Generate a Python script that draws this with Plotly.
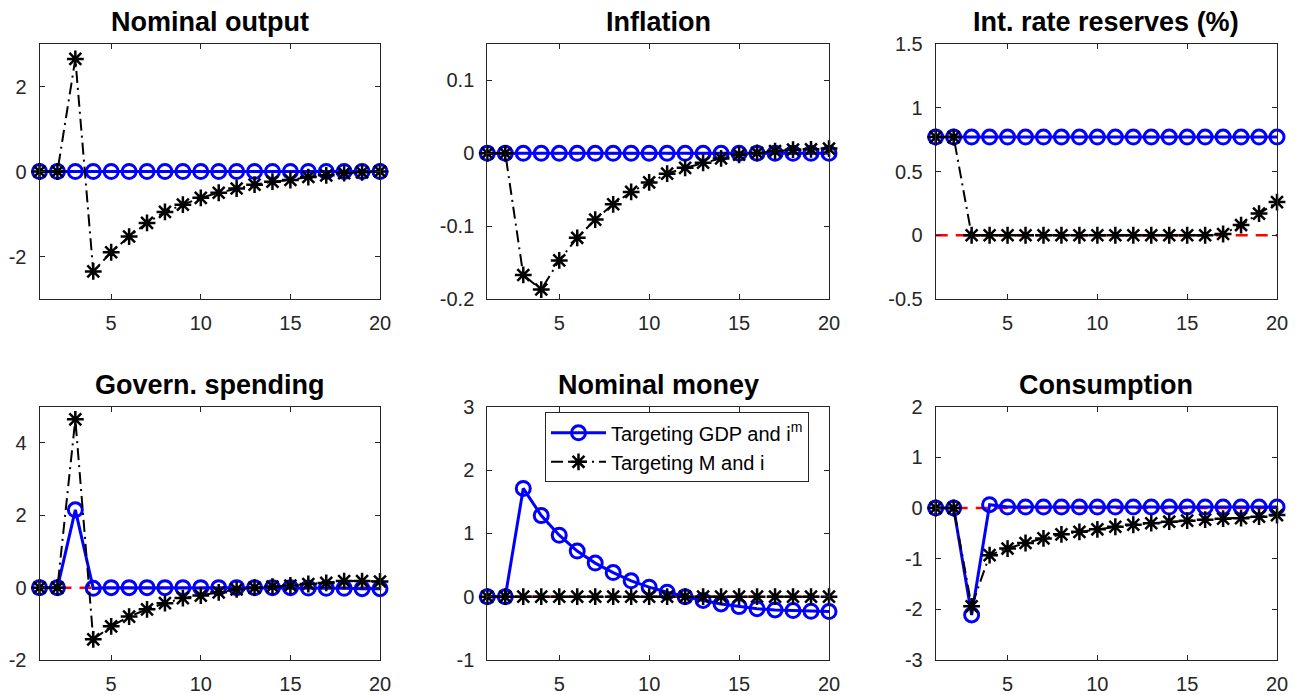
import plotly.graph_objects as go

periods = list(range(1, 21))

titles = ["Nominal output", "Inflation", "Int. rate reserves (%)",
          "Govern. spending", "Nominal money", "Consumption"]

# Targeting GDP and i^m (blue)
gdp_nominal_output = [0]*20
gdp_inflation = [0]*20
gdp_int_rate = [0.77]*20
gdp_gov_spending = [0, 0, 2.15, -0.02, 0, 0, 0, 0, 0, 0, 0, 0, 0, 0, 0, -0.01, -0.02, -0.02, -0.03, -0.03]
gdp_money = [0, 0, 1.71, 1.28, 0.97, 0.72, 0.53, 0.38, 0.25, 0.15, 0.07, 0.0, -0.06, -0.115, -0.157, -0.19, -0.21, -0.22, -0.23, -0.235]
gdp_consumption = [0, 0, -2.11, 0.065] + [0.02]*16

# Targeting M and i (black)
m_nominal_output = [0, 0, 2.65, -2.35, -1.9, -1.53, -1.21, -0.95, -0.78, -0.62, -0.50, -0.40, -0.31, -0.24, -0.20, -0.13, -0.09, -0.04, -0.02, 0.0]
m_inflation = [0, 0, -0.167, -0.187, -0.147, -0.116, -0.091, -0.070, -0.053, -0.040, -0.028, -0.020, -0.013, -0.007, -0.002, 0.0005, 0.003, 0.005, 0.0055, 0.0064]
m_int_rate = [0.77, 0.77] + [0]*14 + [0.01, 0.08, 0.17, 0.26]
m_gov_spending = [0, 0, 4.65, -1.43, -1.07, -0.80, -0.60, -0.43, -0.29, -0.22, -0.13, -0.05, 0.0, 0.03, 0.06, 0.10, 0.13, 0.18, 0.18, 0.17]
m_money = [0]*20
m_consumption = [0, 0, -1.94, -0.93, -0.80, -0.69, -0.60, -0.52, -0.47, -0.42, -0.37, -0.33, -0.30, -0.27, -0.25, -0.23, -0.21, -0.20, -0.17, -0.14]

gdp_series = [gdp_nominal_output, gdp_inflation, gdp_int_rate, gdp_gov_spending, gdp_money, gdp_consumption]
m_series = [m_nominal_output, m_inflation, m_int_rate, m_gov_spending, m_money, m_consumption]
zero_line = [0]*20

y_ranges = [[-3, 3], [-0.2, 0.15], [-0.5, 1.5], [-2, 5], [-1, 3], [-3, 2]]
y_ticks = [[-2, 0, 2], [-0.2, -0.1, 0, 0.1], [-0.5, 0, 0.5, 1, 1.5],
           [-2, 0, 2, 4], [-1, 0, 1, 2, 3], [-3, -2, -1, 0, 1, 2]]
y_ticktext = [["-2", "0", "2"], ["-0.2", "-0.1", "0", "0.1"], ["-0.5", "0", "0.5", "1", "1.5"],
              ["-2", "0", "2", "4"], ["-1", "0", "1", "2", "3"], ["-3", "-2", "-1", "0", "1", "2"]]
x_ticks = [5, 10, 15, 20]

W, H = 1303, 695
col_px = [(39.5, 380), (487.3, 829), (935.7, 1277)]
row_px = [(44, 299), (406.7, 660)]
FONT = "Liberation Sans, Arial"

fig = go.Figure()
layout = {}
annotations = []
for i in range(6):
    r, c = divmod(i, 3)
    ax = "" if i == 0 else str(i + 1)
    xa, ya = "x" + ax, "y" + ax
    x0, x1 = col_px[c]
    y0, y1 = row_px[r]
    xd = [x0 / W, x1 / W]
    yd = [1 - y1 / H, 1 - y0 / H]
    common = dict(showgrid=False, zeroline=False, showline=True, linecolor="#262626",
                  linewidth=1, mirror="ticks", ticks="inside", ticklen=5,
                  tickcolor="#262626", automargin=False,
                  tickfont=dict(family=FONT, size=20, color="#262626"))
    layout["xaxis" + ax] = dict(domain=xd, range=[1, 20], tickvals=x_ticks, anchor=ya,
                                ticklabelstandoff=6, **common)
    layout["yaxis" + ax] = dict(domain=yd, range=y_ranges[i], tickvals=y_ticks[i],
                                ticktext=y_ticktext[i], anchor=xa, ticklabelstandoff=8, **common)
    fig.add_trace(go.Scatter(x=periods, y=zero_line, mode="lines", xaxis=xa, yaxis=ya,
                             line=dict(color="#FF0000", width=2.5, dash="12px,8px"),
                             showlegend=False, hoverinfo="skip"))
    fig.add_trace(go.Scatter(x=periods, y=gdp_series[i], mode="lines+markers", xaxis=xa, yaxis=ya,
                             name="Targeting GDP and i<sup>m</sup>", showlegend=(i == 0),
                             cliponaxis=False,
                             line=dict(color="#0000FF", width=3),
                             marker=dict(symbol="circle-open", size=14, color="#0000FF",
                                         line=dict(width=3, color="#0000FF"))))
    fig.add_trace(go.Scatter(x=periods, y=m_series[i], mode="lines+markers", xaxis=xa, yaxis=ya,
                             name="Targeting M and i", showlegend=(i == 0),
                             cliponaxis=False,
                             line=dict(color="#000000", width=2, dash="12px,5px,2px,5px"),
                             marker=dict(symbol="asterisk-open", size=14, color="#000000",
                                         line=dict(width=2.5, color="#000000"))))
    annotations.append(dict(text="<b>" + titles[i] + "</b>", x=(xd[0] + xd[1]) / 2,
                            y=1 - (y0 - 5) / H, xref="paper", yref="paper",
                            xanchor="center", yanchor="bottom", showarrow=False,
                            font=dict(family=FONT, size=27, color="#000000")))

fig.update_layout(**layout)
fig.update_layout(
    width=W, height=H, margin=dict(l=0, r=0, t=0, b=0, autoexpand=False),
    paper_bgcolor="white", plot_bgcolor="white",
    annotations=annotations,
    legend=dict(x=545 / W, y=1 - 412.3 / H, xanchor="left", yanchor="top",
                bgcolor="white", bordercolor="#262626", borderwidth=1,
                font=dict(family=FONT, size=20, color="#000000"),
                tracegroupgap=0, itemwidth=55),
)
fig.write_html("out.html")
